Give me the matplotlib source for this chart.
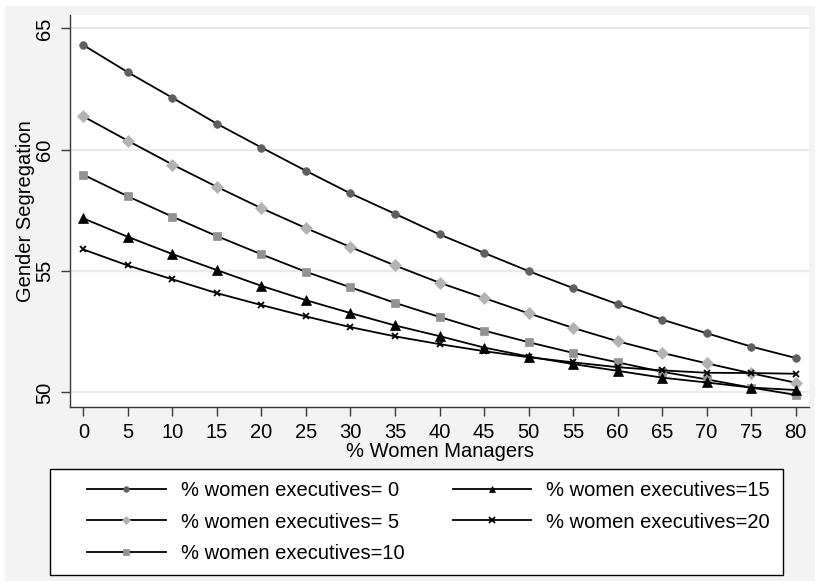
import matplotlib
matplotlib.use("Agg")
import matplotlib.pyplot as plt
from matplotlib.patches import Rectangle

plt.rcParams['font.family'] = ['Liberation Sans', 'DejaVu Sans']

managers = [0, 5, 10, 15, 20, 25, 30, 35, 40, 45, 50, 55, 60, 65, 70, 75, 80]

exec_0 = [64.31, 63.19, 62.14, 61.07, 60.09, 59.13, 58.20, 57.36, 56.51,
          55.75, 55.00, 54.30, 53.64, 53.00, 52.44, 51.89, 51.42]
exec_5 = [61.37, 60.37, 59.39, 58.47, 57.59, 56.77, 55.99, 55.23, 54.52,
          53.89, 53.26, 52.66, 52.11, 51.63, 51.20, 50.79, 50.40]
exec_10 = [58.97, 58.08, 57.24, 56.44, 55.69, 54.97, 54.33, 53.69, 53.11,
           52.55, 52.07, 51.63, 51.24, 50.85, 50.54, 50.20, 49.90]
exec_15 = [57.17, 56.41, 55.70, 55.04, 54.39, 53.80, 53.27, 52.76, 52.32,
           51.85, 51.48, 51.17, 50.89, 50.61, 50.41, 50.20, 50.10]
exec_20 = [55.89, 55.23, 54.66, 54.09, 53.60, 53.13, 52.69, 52.31, 51.99,
           51.70, 51.45, 51.24, 51.04, 50.91, 50.81, 50.80, 50.77]

labels = ['% women executives= 0', '% women executives= 5',
          '% women executives=10', '% women executives=15',
          '% women executives=20']
series = [exec_0, exec_5, exec_10, exec_15, exec_20]
markers = ['o', 'D', 's', '^', 'x']
mcolors = ['#5f5f5f', '#b3b3b3', '#929292', 'black', 'black']
msizes = [5.5, 6, 5.5, 7, 4.5]

W, H = 815, 581
FS = 14.5
fig = plt.figure(figsize=(W / 100, H / 100), dpi=100)
fig.patch.set_facecolor('white')
fig.patches.append(Rectangle((5 / W, 0), 1, 1 - 6 / H, transform=fig.transFigure,
                             facecolor='#f3f3f3', edgecolor='none', zorder=-10))

ax = fig.add_axes([70 / W, 1 - 407 / H, (809 - 70) / W, (407 - 15) / H])
ax.set_facecolor('white')

for y, lab, m, c, s in zip(series, labels, markers, mcolors, msizes):
    ax.plot(managers, y, color='black', lw=1.3, marker=m, markersize=s,
            markerfacecolor=c, markeredgecolor=c, markeredgewidth=1.3 if m == 'x' else 0.5,
            label=lab, zorder=3)

ax.set_xlim(-1.5, 81.5)
ax.set_ylim(49.4, 65.55)
ax.set_xticks(managers)
ax.set_yticks([50, 55, 60, 65])
ax.grid(axis='y', color='#eaeaea', lw=1.6, zorder=0)
ax.set_axisbelow(True)

for side in ['top', 'right']:
    ax.spines[side].set_visible(False)
for side in ['left', 'bottom']:
    ax.spines[side].set_color('#3a3a3a')
    ax.spines[side].set_linewidth(1.0)

ax.tick_params(axis='both', direction='out', length=6.5, width=1.0, color='#3a3a3a',
               labelsize=FS)
ax.tick_params(axis='x', pad=5)
ax.tick_params(axis='y', pad=5)
for t in ax.get_yticklabels():
    t.set_rotation(90)
    t.set_va('center')

ax.set_xlabel('% Women Managers', fontsize=FS, labelpad=0)
ax.set_ylabel('Gender Segregation', fontsize=FS, labelpad=0)

# legend frame drawn separately so the entries can sit further in
fig.patches.append(Rectangle((50 / W, 1 - 575 / H), 733 / W, 106 / H,
                             transform=fig.transFigure, facecolor='white',
                             edgecolor='black', lw=1.0, zorder=1))
leg = fig.legend(loc='center left', bbox_to_anchor=(87 / W, 1 - 575 / H, 683 / W, 106 / H),
                 mode='expand', ncol=2, fontsize=FS, frameon=False,
                 handlelength=3.9, handletextpad=0.75, labelspacing=0.6,
                 borderpad=0, numpoints=1, borderaxespad=0, columnspacing=1.0)
leg.set_zorder(2)
for h in leg.legend_handles:
    h.set_markersize(4)

fig.savefig('out.png', dpi=100)
